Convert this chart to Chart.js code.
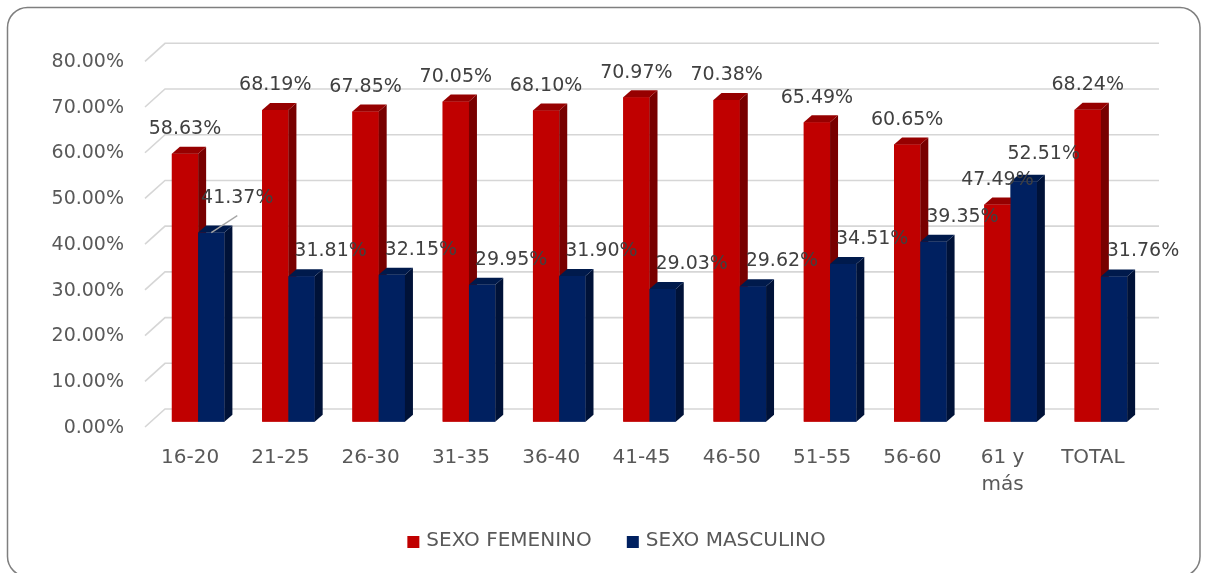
<!DOCTYPE html>
<html>
<head>
<meta charset="utf-8">
<script src="https://cdn.jsdelivr.net/npm/chart.js@4.4.1/dist/chart.umd.min.js"></script>
<style>
  html, body { margin: 0; padding: 0; background: #ffffff; }
  #wrap { position: relative; width: 1207px; height: 573px; }
</style>
</head>
<body>
<div id="wrap"><canvas id="c" width="1207" height="573"></canvas></div>
<script>
const categories = ['16-20', '21-25', '26-30', '31-35', '36-40', '41-45', '46-50', '51-55', '56-60', ['61 y', 'más'], 'TOTAL'];
const femenino = [58.63, 68.19, 67.85, 70.05, 68.10, 70.97, 70.38, 65.49, 60.65, 47.49, 68.24];
const masculino = [41.37, 31.81, 32.15, 29.95, 31.90, 29.03, 29.62, 34.51, 39.35, 52.51, 31.76];
const seriesNames = ['SEXO FEMENINO', 'SEXO MASCULINO'];
const yMin = 0, yMax = 80, yStep = 10;

const FONT = 'DejaVu Sans';
const FRONT = ['#C00000', '#002060'];
const SIDE = ['#780000', '#001238'];
const TOP = ['#960000', '#001a4c'];
const DX = 8, DY = -7;

function fmt(v) { return v.toFixed(2) + '%'; }

const framePlugin = {
  id: 'frame',
  beforeDraw(chart) {
    const ctx = chart.ctx;
    ctx.save();
    ctx.fillStyle = '#ffffff';
    ctx.fillRect(0, 0, chart.width, chart.height);
    ctx.strokeStyle = '#7f7f7f';
    ctx.lineWidth = 1.5;
    ctx.beginPath();
    ctx.roundRect(7.5, 7.5, 1192.5, 569, 20);
    ctx.stroke();
    ctx.restore();
  }
};

const gridPlugin = {
  id: 'grid3d',
  beforeDatasetsDraw(chart) {
    const ctx = chart.ctx;
    const y = chart.scales.y;
    const a = chart.chartArea;
    const fx = a.left - 8, bx = a.left + 12, rx = a.right + 13;
    ctx.save();
    ctx.strokeStyle = '#d6d6d6';
    ctx.lineWidth = 1.6;
    for (let v = yMin; v <= yMax; v += yStep) {
      const yb = y.getPixelForValue(v);
      ctx.beginPath();
      ctx.moveTo(fx, yb + 5.3);
      ctx.lineTo(bx, yb - 12.7);
      ctx.lineTo(rx, yb - 12.7);
      ctx.stroke();
    }
    ctx.restore();
  }
};

// Draw each bar as a 3D block, dataset by dataset in series order,
// so the second series' front face covers the first series' side face.
const barSidesPlugin = {
  id: 'bar3d',
  afterDatasetsDraw(chart) {
    const ctx = chart.ctx;
    ctx.save();
    chart.data.datasets.forEach((ds, i) => {
      const meta = chart.getDatasetMeta(i);
      meta.data.forEach(el => {
        const p = el.getProps(['x', 'y', 'base', 'width'], true);
        const x0 = p.x - p.width / 2, x1 = p.x + p.width / 2;
        const top = p.y, base = p.base;
        ctx.fillStyle = FRONT[i];
        ctx.fillRect(x0, top, x1 - x0, base - top);
        ctx.fillStyle = SIDE[i];
        ctx.beginPath();
        ctx.moveTo(x1, top);
        ctx.lineTo(x1 + DX, top + DY);
        ctx.lineTo(x1 + DX, base + DY);
        ctx.lineTo(x1, base);
        ctx.closePath();
        ctx.fill();
        ctx.fillStyle = TOP[i];
        ctx.beginPath();
        ctx.moveTo(x0, top);
        ctx.lineTo(x0 + DX, top + DY);
        ctx.lineTo(x1 + DX, top + DY);
        ctx.lineTo(x1, top);
        ctx.closePath();
        ctx.fill();
      });
    });
    ctx.restore();
  }
};

const labelsPlugin = {
  id: 'labels3d',
  afterDraw(chart) {
    const ctx = chart.ctx;
    ctx.save();
    ctx.font = '19px "' + FONT + '"';
    ctx.fillStyle = '#404040';
    ctx.textAlign = 'center';
    ctx.textBaseline = 'middle';
    chart.data.datasets.forEach((ds, di) => {
      const meta = chart.getDatasetMeta(di);
      meta.data.forEach((el, k) => {
        const p = el.getProps(['x', 'y'], true);
        let lx = p.x, ly = p.y - 24.5;
        if (di === 1) {
          lx = p.x + 29; ly = p.y - 25;
          if (k === 0) {
            lx = p.x + 26; ly = p.y - 35;
            ctx.save();
            ctx.strokeStyle = '#a6a6a6';
            ctx.lineWidth = 1.3;
            ctx.beginPath();
            ctx.moveTo(p.x, p.y);
            ctx.lineTo(p.x + 26, p.y - 17);
            ctx.stroke();
            ctx.restore();
          } else if (k === 9) {
            lx = p.x + 20; ly = p.y - 28;
          }
        }
        ctx.fillText(fmt(ds.data[k]), lx, ly);
      });
    });
    // legend
    ctx.font = '20px "' + FONT + '"';
    ctx.textAlign = 'left';
    const box = 12, gap = 7, space = 35;
    const w0 = ctx.measureText(seriesNames[0]).width;
    const w1 = ctx.measureText(seriesNames[1]).width;
    const total = box + gap + w0 + space + box + gap + w1;
    let x = 616.5 - total / 2;
    const cy = 541;
    [0, 1].forEach(di => {
      ctx.fillStyle = FRONT[di];
      ctx.fillRect(x, cy - 5, box, box);
      x += box + gap;
      ctx.fillStyle = '#595959';
      ctx.fillText(seriesNames[di], x, cy);
      x += (di === 0 ? w0 : w1) + space;
    });
    ctx.restore();
  }
};

new Chart(document.getElementById('c'), {
  type: 'bar',
  data: {
    labels: categories,
    datasets: [
      { label: seriesNames[0], data: femenino, backgroundColor: FRONT[0] },
      { label: seriesNames[1], data: masculino, backgroundColor: FRONT[1] }
    ]
  },
  options: {
    responsive: false,
    animation: false,
    devicePixelRatio: 1,
    categoryPercentage: 0.582,
    barPercentage: 1,
    layout: { padding: { left: 0, right: 61, top: 56, bottom: 0 } },
    plugins: { legend: { display: false }, tooltip: { enabled: false } },
    scales: {
      x: {
        grid: { display: false },
        border: { display: false },
        ticks: {
          color: '#595959',
          font: { family: FONT, size: 20, lineHeight: 1.35 },
          padding: 15,
          labelOffset: -8,
          maxRotation: 0,
          autoSkip: false
        },
        afterFit(s) { s.height = 151.3; }
      },
      y: {
        min: yMin,
        max: yMax,
        grid: { display: false, drawTicks: false },
        border: { display: false },
        ticks: {
          stepSize: yStep,
          color: '#595959',
          font: { family: FONT, size: 19 },
          padding: 29,
          labelOffset: 6,
          callback: v => fmt(v)
        },
        afterFit(s) { s.width = 153; }
      }
    }
  },
  plugins: [framePlugin, gridPlugin, barSidesPlugin, labelsPlugin]
});
</script>
</body>
</html>
